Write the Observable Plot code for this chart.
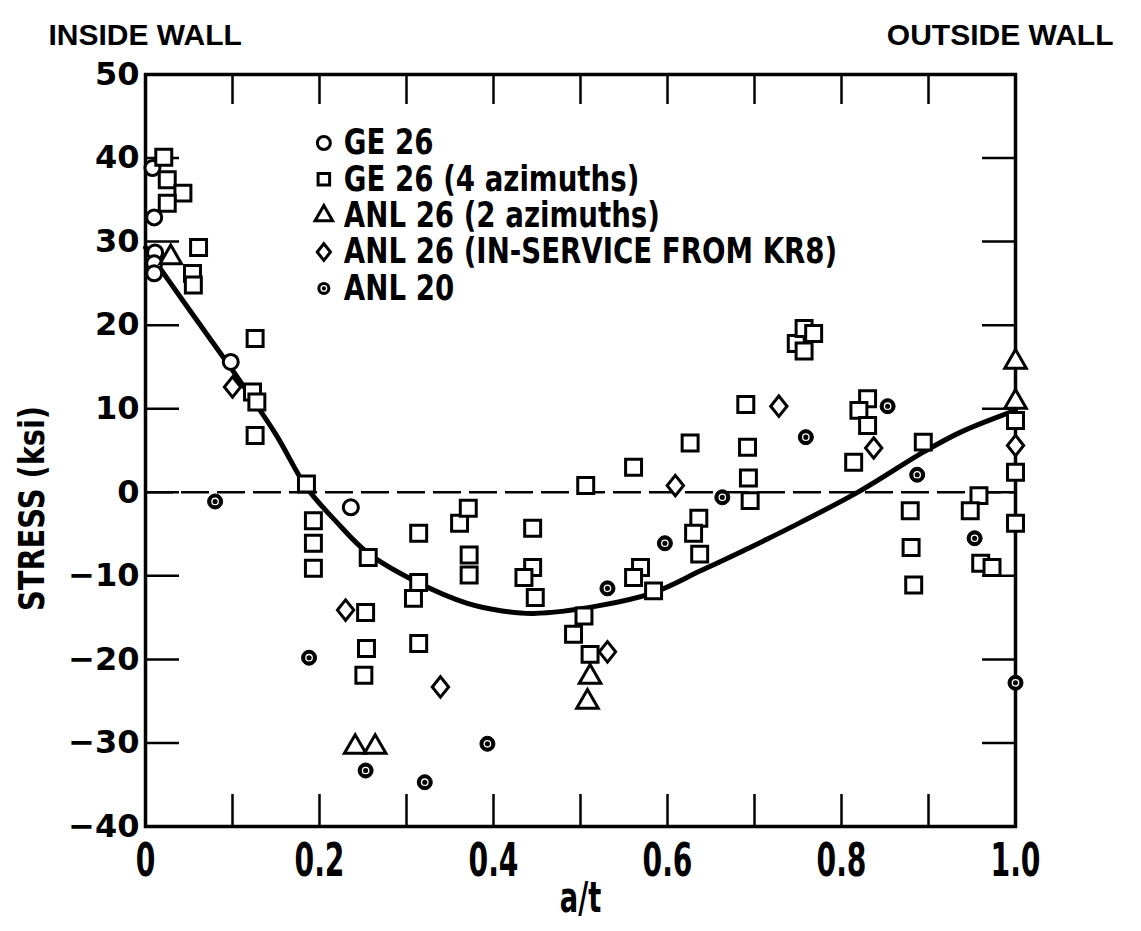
<!DOCTYPE html>
<html><head><meta charset="utf-8">
<script src="https://cdn.jsdelivr.net/npm/d3@7"></script>
<script src="https://cdn.jsdelivr.net/npm/@observablehq/plot@0.6"></script>
<style>
html,body{margin:0;padding:0;background:#fff;}
#chart svg{display:block;background:#fff;}
</style></head><body><div id="chart"></div>
<script>
// ---- data (x = a/t, y = stress ksi) ----
const ge26 = [[0.008,38.8],[0.01,32.9],[0.011,28.7],[0.01,27.4],[0.01,26.2],[0.098,15.6],[0.236,-1.8]];
const ge26Az = [[0.021,40.1],[0.025,37.4],[0.043,35.8],[0.025,34.6],[0.061,29.3],[0.054,26.2],[0.055,24.8],
  [0.126,18.4],[0.123,12.0],[0.128,10.8],[0.126,6.8],[0.185,1.0],[0.193,-3.4],[0.193,-6.1],[0.193,-9.1],
  [0.256,-7.8],[0.253,-14.4],[0.254,-18.7],[0.251,-21.9],[0.314,-4.9],[0.314,-10.8],[0.308,-12.7],[0.314,-18.1],
  [0.361,-3.7],[0.371,-1.9],[0.372,-7.5],[0.372,-9.9],[0.445,-4.3],[0.445,-9.0],[0.435,-10.2],[0.448,-12.6],
  [0.506,0.8],[0.504,-14.8],[0.492,-17.0],[0.511,-19.4],[0.561,3.0],[0.569,-9.0],[0.561,-10.2],[0.584,-11.8],
  [0.626,5.9],[0.636,-3.1],[0.63,-4.9],[0.637,-7.4],[0.69,10.5],[0.692,5.4],[0.693,1.7],[0.695,-1.0],
  [0.748,17.8],[0.757,19.6],[0.768,19.0],[0.757,16.9],[0.814,3.6],[0.83,11.2],[0.82,9.8],[0.83,8.0],
  [0.894,6.0],[0.879,-2.2],[0.88,-6.6],[0.883,-11.1],[0.958,-0.4],[0.948,-2.2],[0.96,-8.5],[0.973,-9.0],
  [1.0,8.6],[1.0,2.4],[1.0,-3.7]];
const anl26Az = [[0.029,28.1],[0.241,-30.5],[0.264,-30.5],[0.511,-22.1],[0.508,-25.1],[1.0,15.6],[1.0,10.8]];
const anl26Krb = [[0.1,12.6],[0.23,-14.1],[0.339,-23.3],[0.531,-19.1],[0.609,0.8],[0.728,10.3],[0.837,5.3],[1.0,5.6]];
const anl20 = [[0.08,-1.1],[0.188,-19.8],[0.253,-33.3],[0.321,-34.7],[0.393,-30.1],[0.531,-11.5],[0.597,-6.1],
  [0.663,-0.6],[0.759,6.6],[0.853,10.3],[0.887,2.1],[0.953,-5.5],[1.0,-22.8]];
const fitCurve = [[0,29.3],[0.05,21.9],[0.1,14.6],[0.15,6.9],[0.185,0.6],[0.22,-3.6],[0.256,-7.3],
  [0.313,-10.8],[0.37,-13.3],[0.41,-14.2],[0.446,-14.5],[0.52,-13.6],[0.584,-12.0],[0.638,-9.4],[0.695,-6.6],
  [0.753,-3.6],[0.822,0.2],[0.894,4.8],[0.937,7.2],[1.0,9.8]];
const legendLabels = ["GE 26","GE 26 (4 azimuths)","ANL 26 (2 azimuths)","ANL 26 (IN-SERVICE FROM KR8)","ANL 20"];
const legendSymbols = ["circle","square","triangle","diamond","anl20"];
const xTickLabels = [0,0.2,0.4,0.6,0.8,1.0];
const xTickMarks = [0.1,0.2,0.3,0.4,0.5,0.6,0.7,0.8,0.9];
const yTickLabels = [-40,-30,-20,-10,0,10,20,30,40,50];
const yTickMarks = [-30,-20,-10,0,10,20,30,40];

// ---- layout ----
const W = 1141, H = 931;
const mL = 145, mR = 126, mT = 74, mB = 105;
const fw = W - mL - mR, fh = H - mT - mB;
const font = "'DejaVu Sans',Verdana,sans-serif";
const narrow = "'Liberation Sans',Arial,sans-serif";

// tall diamond symbol
const tallDiamond = {
  draw(ctx, size) {
    const h = Math.sqrt(size) * 0.72, w = h * 0.8;
    ctx.moveTo(0, -h); ctx.lineTo(w, 0); ctx.lineTo(0, h); ctx.lineTo(-w, 0); ctx.closePath();
  }
};

// legend rows placed in data space
const legX = 0.205;
const legY0 = 41.8, legStep = 4.35;
const legend = legendLabels.map((t, i) => ({label: t, sym: legendSymbols[i], x: legX, y: legY0 - i * legStep}));

const pt = (sym, r) => ({x: d => d[0], y: d => d[1], symbol: sym, r, stroke: "black", strokeWidth: 3, fill: "white"});
const txt = (o) => ({fontWeight: "bold", fontFamily: font, fill: "black", lineAnchor: "middle", ...o});

// font size -> horizontal condensing factor (narrow lettering)
const condense = {35: 0.79, 47: 0.6, 42: 0.65, 36: 0.8};

const chart = Plot.plot({
  width: W, height: H,
  marginLeft: mL, marginRight: mR, marginTop: mT, marginBottom: mB,
  x: {domain: [0, 1], axis: null},
  y: {domain: [-40, 50], axis: null},
  marks: [
    Plot.ruleY([0], {stroke: "black", strokeWidth: 2.5, strokeDasharray: "28,8"}),
    Plot.line(fitCurve, {x: d => d[0], y: d => d[1], curve: "catmull-rom", stroke: "black", strokeWidth: 5}),
    // inward ticks
    Plot.ruleX(xTickMarks, {insetTop: fh - 32, stroke: "black", strokeWidth: 2.5}),
    Plot.ruleX(xTickMarks, {insetBottom: fh - 30, stroke: "black", strokeWidth: 2.5}),
    Plot.ruleY(yTickMarks, {insetRight: fw - 34, stroke: "black", strokeWidth: 2.5}),
    Plot.ruleY(yTickMarks, {insetLeft: fw - 33, stroke: "black", strokeWidth: 2.5}),
    Plot.frame({stroke: "black", strokeWidth: 3.5}),
    // data
    Plot.dot(ge26, pt("circle", 7.5)),
    Plot.dot(ge26Az, pt("square", 9)),
    Plot.dot(anl26Az, pt("triangle", 8)),
    Plot.dot(anl26Krb, pt(tallDiamond, 8)),
    Plot.dot(anl20, {x: d => d[0], y: d => d[1], r: 7.5, fill: "black", stroke: "black", strokeWidth: 1}),
    Plot.dot(anl20, {x: d => d[0], y: d => d[1], r: 3.2, fill: "none", stroke: "white", strokeWidth: 1.3}),
    // legend
    Plot.dot(legend.filter(d => d.sym === "circle" || d.sym === "square" || d.sym === "triangle"), {x: "x", y: "y", symbol: "sym", r: 6.5, stroke: "black", strokeWidth: 3, fill: "white"}),
    Plot.dot(legend.filter(d => d.sym === "diamond"), {x: "x", y: "y", symbol: tallDiamond, r: 6.5, stroke: "black", strokeWidth: 3, fill: "white"}),
    Plot.dot(legend.filter(d => d.sym === "anl20"), {x: "x", y: "y", r: 6.5, fill: "black"}),
    Plot.dot(legend.filter(d => d.sym === "anl20"), {x: "x", y: "y", r: 2.8, fill: "none", stroke: "white", strokeWidth: 1.3}),
    Plot.text(legend, txt({x: "x", y: "y", text: "label", dx: 20, textAnchor: "start", fontSize: 35})),
    // tick labels
    Plot.text(xTickLabels, txt({x: d => d, frameAnchor: "bottom", dy: 34, textAnchor: "middle", text: d => d === 0 ? "0" : d.toFixed(1), fontSize: 47})),
    Plot.text(yTickLabels, txt({y: d => d, frameAnchor: "left", dx: -6, textAnchor: "end", text: d => d < 0 ? "\u2212" + Math.abs(d) : String(d), fontSize: 32})),
    // titles
    Plot.text(["INSIDE WALL"], txt({frameAnchor: "top-left", dx: -97, dy: -39, textAnchor: "start", fontSize: 30, fontFamily: narrow})),
    Plot.text(["OUTSIDE WALL"], txt({frameAnchor: "top-right", dx: 98, dy: -39, textAnchor: "end", fontSize: 30, fontFamily: narrow})),
    Plot.text(["a/t"], txt({frameAnchor: "bottom", dy: 72, textAnchor: "middle", fontSize: 42})),
    Plot.text(["STRESS (ksi)"], txt({frameAnchor: "left", dx: -113, dy: 58, textAnchor: "middle", rotate: -90, fontSize: 36}))
  ]
});
document.getElementById("chart").appendChild(chart);

// horizontally condense lettering to mimic the narrow technical font
chart.querySelectorAll("text").forEach(t => {
  const g = t.closest("g[font-size]");
  const fs = g ? +g.getAttribute("font-size") : NaN;
  const f = condense[fs];
  if (!f) return;
  const L = t.getComputedTextLength();
  t.setAttribute("textLength", (L * f).toFixed(1));
  t.setAttribute("lengthAdjust", "spacingAndGlyphs");
});
</script>
</body></html>
